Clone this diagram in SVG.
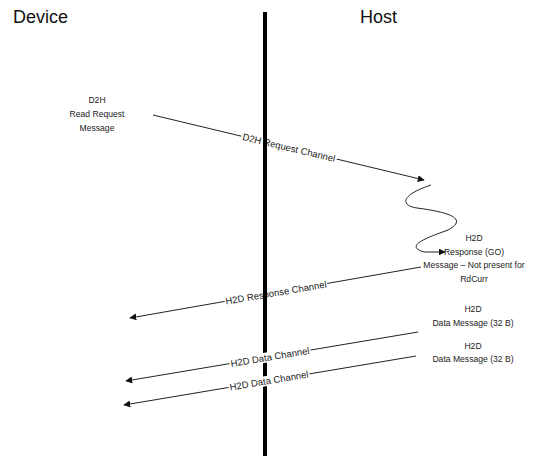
<svg xmlns="http://www.w3.org/2000/svg" width="548" height="456" viewBox="0 0 548 456">
  <style>
    .title { font-family: "Liberation Sans", Arial, sans-serif; font-size: 18px; fill: #111; }
    .node text { font-family: "Liberation Sans", Arial, sans-serif; font-size: 8.6px; fill: #222; text-anchor: middle; }
    .conn { stroke: #222; stroke-width: 1; fill: none; marker-end: url(#arrow); }
    .lbl { font-family: "Liberation Sans", Arial, sans-serif; font-size: 9.5px; fill: #222; text-anchor: middle; }
    .lblbg { fill: #fff; }
  </style>
  <defs>
    <marker id="arrow" viewBox="0 0 10 10" refX="9" refY="5" markerWidth="7" markerHeight="7" markerUnits="userSpaceOnUse" orient="auto">
      <path d="M0,0 L10,5 L0,10 z" fill="#111"/>
    </marker>
  </defs>
  <rect width="548" height="456" fill="#fff"/>

  <!-- lane titles -->
  <g id="lane-device"><text class="title" x="13" y="23">Device</text></g>
  <g id="lane-host"><text class="title" x="360" y="23">Host</text></g>

  <!-- message nodes -->
  <g id="d2h-read-request" class="node">
    <text x="97" y="103">D2H</text>
    <text x="97" y="117">Read Request</text>
    <text x="97" y="131">Message</text>
  </g>
  <g id="h2d-response" class="node">
    <text x="474" y="241">H2D</text>
    <text x="474" y="255">Response (GO)</text>
    <text x="474" y="268">Message – Not present for</text>
    <text x="474" y="282">RdCurr</text>
  </g>
  <g id="h2d-data-1" class="node">
    <text x="473" y="312">H2D</text>
    <text x="473" y="326">Data Message (32 B)</text>
  </g>
  <g id="h2d-data-2" class="node">
    <text x="473" y="349">H2D</text>
    <text x="473" y="362">Data Message (32 B)</text>
  </g>

  <!-- connectors -->
  <g id="connectors">
    <line class="conn" x1="153" y1="115" x2="424" y2="180"/>
    <path class="conn" d="M431,185 C398,196 402,206 417,208 C440,211 472,217 448,230 C426,238 404,246 424,252 L445,252"/>
    <line class="conn" x1="421" y1="267" x2="130" y2="318"/>
    <line class="conn" x1="418" y1="332" x2="126" y2="381"/>
    <line class="conn" x1="416" y1="356" x2="124" y2="405"/>

    <g transform="translate(289,147.6) rotate(13.5)">
      <rect class="lblbg" x="-49" y="-5" width="98" height="10"/>
      <text class="lbl" y="3.4">D2H Request Channel</text>
    </g>
    <g transform="translate(276,292.6) rotate(-9.66)">
      <rect class="lblbg" x="-52" y="-5" width="104" height="10"/>
      <text class="lbl" y="3.4">H2D Response Channel</text>
    </g>
  </g>

  <!-- divider between the two lanes -->
  <g id="divider"><line x1="265" y1="12" x2="265" y2="456" stroke="#000" stroke-width="4"/></g>

  <!-- data channel labels sit over the divider -->
  <g id="connector-labels">
    <g transform="translate(270,357) rotate(-9.56)">
      <rect class="lblbg" x="-41" y="-5" width="82" height="10"/>
      <text class="lbl" y="3.4">H2D Data Channel</text>
    </g>
    <g transform="translate(269,380.6) rotate(-9.56)">
      <rect class="lblbg" x="-41" y="-5" width="82" height="10"/>
      <text class="lbl" y="3.4">H2D Data Channel</text>
    </g>
  </g>
</svg>
